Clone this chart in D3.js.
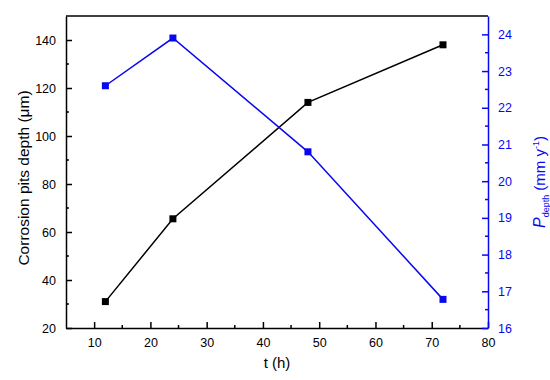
<!DOCTYPE html>
<html>
<head>
<meta charset="utf-8">
<script src="https://cdn.jsdelivr.net/npm/d3@7"></script>
<style>
  body { margin: 0; background: #fff; }
  text { font-family: "Liberation Sans", Arial, sans-serif; }
</style>
</head>
<body>
<div id="chart"></div>
<script>
// Data
const hours = [12, 24, 48, 72]
const pitDepth = [31, 65.5, 114, 138]
const pDepth = [22.6, 23.9, 20.8, 16.78]

const xTicks = [10, 20, 30, 40, 50, 60, 70, 80]
const leftTicks = [20, 40, 60, 80, 100, 120, 140]
const rightTicks = [16, 17, 18, 19, 20, 21, 22, 23, 24]

const WIDTH = 550
const HEIGHT = 380
const MARGIN = { top: 16, right: 62, bottom: 52, left: 66 }
const BLUE = '#0808f0'

const svg = d3.select('#chart')
    .append('svg')
    .attr('width', WIDTH)
    .attr('height', HEIGHT)

const x = d3.scaleLinear().domain([5, 80]).range([MARGIN.left, WIDTH - MARGIN.right])
const yL = d3.scaleLinear().domain([20, 150]).range([HEIGHT - MARGIN.bottom, MARGIN.top])
const yR = d3.scaleLinear().domain([16, 24.5]).range([HEIGHT - MARGIN.bottom, MARGIN.top])

// midpoints between major ticks
const minor = (ticks) => ticks.slice(0, -1).map((t, i) => (t + ticks[i + 1]) / 2)

// top frame line
svg.append('line')
    .attr('x1', x.range()[0]).attr('x2', x.range()[1])
    .attr('y1', MARGIN.top).attr('y2', MARGIN.top)
    .attr('stroke', '#000').attr('stroke-width', 1.5)

// x axis
const xAxis = svg.append('g')
    .attr('transform', `translate(0, ${HEIGHT - MARGIN.bottom})`)
    .call(d3.axisBottom(x).tickValues(xTicks).tickSizeInner(-6).tickSizeOuter(0).tickPadding(10))
xAxis.selectAll('.minor')
    .data(minor(xTicks))
    .enter().append('line')
    .attr('class', 'minor')
    .attr('x1', d => x(d)).attr('x2', d => x(d))
    .attr('y1', 0).attr('y2', -3)
    .attr('stroke', '#000').attr('stroke-width', 1.5)

// left axis
const lAxis = svg.append('g')
    .attr('transform', `translate(${MARGIN.left}, 0)`)
    .call(d3.axisLeft(yL).tickValues(leftTicks).tickSizeInner(-6).tickSizeOuter(0).tickPadding(10))
lAxis.selectAll('.minor')
    .data(minor(leftTicks))
    .enter().append('line')
    .attr('class', 'minor')
    .attr('x1', 0).attr('x2', 3)
    .attr('y1', d => yL(d)).attr('y2', d => yL(d))
    .attr('stroke', '#000').attr('stroke-width', 1.5)

// right axis
const rAxis = svg.append('g')
    .attr('transform', `translate(${WIDTH - MARGIN.right}, 0)`)
    .call(d3.axisRight(yR).tickValues(rightTicks).tickSizeInner(-6).tickSizeOuter(0).tickPadding(10))
rAxis.selectAll('.minor')
    .data(minor(rightTicks))
    .enter().append('line')
    .attr('class', 'minor')
    .attr('x1', 0).attr('x2', -3)
    .attr('y1', d => yR(d)).attr('y2', d => yR(d))
    .attr('stroke', BLUE).attr('stroke-width', 1.5)

for (const [g, c] of [[xAxis, '#000'], [lAxis, '#000'], [rAxis, BLUE]]) {
    g.select('.domain').attr('stroke', c).attr('stroke-width', 1.5)
    g.selectAll('.tick line').attr('stroke', c).attr('stroke-width', 1.5)
    g.selectAll('.tick text').attr('fill', c).style('font-size', '12.5px')
}

// axis titles
svg.append('text')
    .attr('x', (x.range()[0] + x.range()[1]) / 2)
    .attr('y', HEIGHT - 12)
    .attr('text-anchor', 'middle')
    .style('font-size', '15px')
    .text('t (h)')

svg.append('text')
    .attr('transform', `translate(29, ${(MARGIN.top + HEIGHT - MARGIN.bottom) / 2 + 6}) rotate(-90)`)
    .attr('text-anchor', 'middle')
    .style('font-size', '15.5px')
    .text('Corrosion pits depth (μm)')

const rTitle = svg.append('text')
    .attr('transform', `translate(545, ${(MARGIN.top + HEIGHT - MARGIN.bottom) / 2 + 10}) rotate(-90)`)
    .attr('text-anchor', 'middle')
    .attr('fill', BLUE)
    .style('font-size', '15px')
rTitle.append('tspan').style('font-style', 'italic').style('font-size', '16px').text('P')
rTitle.append('tspan').attr('dy', 4).style('font-size', '9px').text('depth')
rTitle.append('tspan').attr('dy', -4).text(' (mm y')
rTitle.append('tspan').attr('dy', -6).style('font-size', '9px').text('-1')
rTitle.append('tspan').attr('dy', 6).text(')')

// series
const black = hours.map((h, i) => [h, pitDepth[i]])
const blue = hours.map((h, i) => [h, pDepth[i]])

svg.append('path')
    .datum(black)
    .attr('fill', 'none').attr('stroke', '#000').attr('stroke-width', 1.5)
    .attr('d', d3.line().x(d => x(d[0])).y(d => yL(d[1])))

svg.append('path')
    .datum(blue)
    .attr('fill', 'none').attr('stroke', BLUE).attr('stroke-width', 1.5)
    .attr('d', d3.line().x(d => x(d[0])).y(d => yR(d[1])))

const S = 7
svg.selectAll('.ptBlack')
    .data(black).enter().append('rect')
    .attr('x', d => x(d[0]) - S / 2).attr('y', d => yL(d[1]) - S / 2)
    .attr('width', S).attr('height', S).attr('fill', '#000')

svg.selectAll('.ptBlue')
    .data(blue).enter().append('rect')
    .attr('x', d => x(d[0]) - S / 2).attr('y', d => yR(d[1]) - S / 2)
    .attr('width', S).attr('height', S).attr('fill', BLUE)
</script>
</body>
</html>
